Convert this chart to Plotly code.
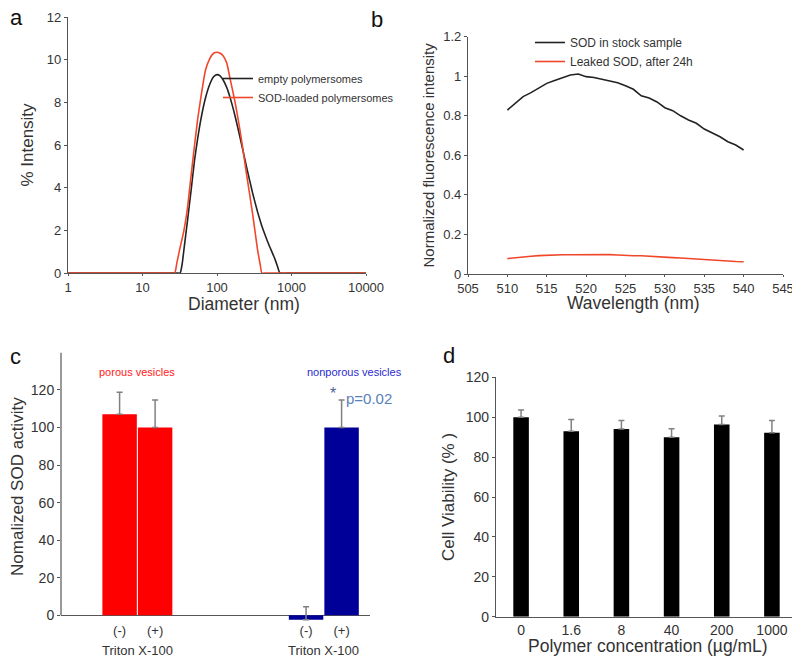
import plotly.graph_objects as go

# ---- panel a: DLS size distribution
diameter = [1, 20, 27, 29, 32, 34, 36, 40, 45, 50, 55, 60, 70, 80, 90, 100, 110, 120,
            135, 150, 175, 200, 225, 250, 300, 350, 380, 400, 450, 500, 600, 650, 700, 1000, 10000]
empty_int = [0, 0, 0, 0, 0, 0.4, 1.1, 2.4, 3.9, 5.3, 6.3, 7.1, 8.2, 8.85, 9.2, 9.3, 9.24, 9.07,
             8.7, 8.22, 7.35, 6.48, 5.68, 4.95, 3.76, 2.87, 2.45, 2.2, 1.71, 1.3, 0.65, 0.3, 0, 0, 0]
sod_int = [0, 0, 0, 0.5, 1.2, 1.6, 2.0, 3.0, 4.6, 6.0, 7.2, 8.1, 9.5, 10.05, 10.3, 10.35, 10.3, 10.2,
           9.85, 9.1, 8.0, 6.85, 5.7, 4.6, 2.8, 1.1, 0.4, 0, 0, 0, 0, 0, 0, 0, 0]

# ---- panel b: fluorescence spectra
wavelength = list(range(510, 541))
stock = [0.829, 0.863, 0.897, 0.917, 0.942, 0.964, 0.979, 0.994, 1.006, 1.011, 0.998,
         0.994, 0.984, 0.974, 0.967, 0.952, 0.934, 0.901, 0.890, 0.870, 0.841, 0.826,
         0.800, 0.779, 0.762, 0.733, 0.714, 0.694, 0.669, 0.652, 0.627]
leaked = [0.078, 0.083, 0.087, 0.090, 0.093, 0.095, 0.096, 0.097, 0.097, 0.097, 0.098,
          0.099, 0.100, 0.098, 0.096, 0.093, 0.092, 0.092, 0.089, 0.087, 0.085, 0.083,
          0.081, 0.078, 0.076, 0.072, 0.070, 0.068, 0.065, 0.063, 0.062]

# ---- panel c: SOD activity
triton = ["(-)", "(+)"]
porous = [107, 100]
porous_err = [11.8, 14.6]
nonporous = [-2.4, 100]
nonporous_err = [7, 14.6]

# ---- panel d: cell viability
conc = ["0", "1.6", "8", "40", "200", "1000"]
viability = [100, 92.9, 94.1, 89.9, 96.4, 92.2]
viability_err = [3.6, 6.0, 4.3, 4.3, 4.2, 6.2]

FONT = "Liberation Sans, Arial, sans-serif"
AX = "#555555"
TXT = "#333333"

# page has an 8px body margin, so the figure is a bit smaller than the window
W, H = 792, 651


def fx(px):
    return (px - 8) / W


def fy(py):
    return 1 - (py - 8) / H


fig = go.Figure()

fig.add_trace(go.Scatter(x=diameter, y=empty_int, mode="lines", line=dict(color="#222222", width=1.6, shape="spline", smoothing=0.5),
                         name="empty polymersomes", xaxis="x", yaxis="y", legend="legend", cliponaxis=False))
fig.add_trace(go.Scatter(x=diameter, y=sod_int, mode="lines", line=dict(color="#f0472b", width=1.6, shape="spline", smoothing=0.5),
                         name="SOD-loaded polymersomes", xaxis="x", yaxis="y", legend="legend", cliponaxis=False))

fig.add_trace(go.Scatter(x=wavelength, y=stock, mode="lines", line=dict(color="#222222", width=1.6),
                         name="SOD in stock sample", xaxis="x2", yaxis="y2", legend="legend2"))
fig.add_trace(go.Scatter(x=wavelength, y=leaked, mode="lines", line=dict(color="#f0472b", width=1.6),
                         name="Leaked SOD, after 24h", xaxis="x2", yaxis="y2", legend="legend2"))

# bar positions for panel c, two groups of two
group_c = [2.15, 7.4]
pos_porous = [group_c[0] - 0.5, group_c[0] + 0.5]
pos_nonporous = [group_c[1] - 0.5, group_c[1] + 0.5]
err_style = dict(type="data", symmetric=False, color="#808080", thickness=1.5, width=3)
fig.add_trace(go.Bar(x=pos_porous, y=porous, width=0.97, marker=dict(color="#ff0000", line_width=0),
                     error_y=dict(array=porous_err, arrayminus=[0, 0], **err_style),
                     xaxis="x3", yaxis="y3", showlegend=False))
fig.add_trace(go.Bar(x=pos_nonporous, y=nonporous, width=0.97, marker=dict(color="#000099", line_width=0),
                     error_y=dict(array=nonporous_err, arrayminus=[0, 0], **err_style),
                     xaxis="x3", yaxis="y3", showlegend=False))

fig.add_trace(go.Bar(x=conc, y=viability, marker=dict(color="black", line_width=0),
                     error_y=dict(array=viability_err, arrayminus=[0] * len(conc), **err_style),
                     xaxis="x4", yaxis="y4", showlegend=False))

axis_common = dict(showline=True, linecolor=AX, linewidth=1.2, showgrid=False, zeroline=False, automargin=False,
                   tickfont=dict(family=FONT, size=13, color=TXT), ticks="outside", ticklen=3, tickcolor=AX)

fig.update_layout(
    width=W, height=H, margin=dict(l=0, r=0, t=0, b=0, autoexpand=False),
    paper_bgcolor="white", plot_bgcolor="white", font=dict(family=FONT, color=TXT),
    barmode="overlay", bargap=0.69,
    xaxis=dict(axis_common, type="log", range=[0, 4], domain=[fx(68), fx(366)], ticklen=2,
               tickvals=[1, 10, 100, 1000, 10000], ticktext=["1", "10", "100", "1000", "10000"], anchor="y"),
    yaxis=dict(axis_common, range=[0, 12], dtick=2, domain=[fy(273), fy(17)],
               title=dict(text="% Intensity", font=dict(size=17), standoff=8), anchor="x"),
    xaxis2=dict(axis_common, range=[505, 545], dtick=5, domain=[fx(468), fx(783)], ticklen=2, anchor="y2"),
    yaxis2=dict(axis_common, range=[0, 1.2], tickvals=[0, 0.2, 0.4, 0.6, 0.8, 1, 1.2],
                ticktext=["0", "0.2", "0.4", "0.6", "0.8", "1", "1.2"], domain=[fy(274), fy(36.7)],
                title=dict(text="Normalized fluorescence intensity", font=dict(size=15), standoff=4), anchor="x2"),
    xaxis3=dict(range=[0, 8.7], domain=[fx(61), fx(370)], showline=False, showgrid=False, zeroline=False,
                automargin=False, tickvals=pos_porous + pos_nonporous, ticktext=triton + triton, ticks="",
                tickfont=dict(family=FONT, size=13, color=TXT), anchor="y3"),
    yaxis3=dict(range=[-3, 140], tickvals=[0, 20, 40, 60, 80, 100, 120], domain=[fy(620.9), fy(352.4)],
                showline=False, showgrid=False, zeroline=True, zerolinecolor=AX, zerolinewidth=1.2, automargin=False,
                ticks="outside", ticklen=3, tickcolor=AX, tickfont=dict(family=FONT, size=14, color=TXT),
                title=dict(text="Nomalized SOD activity", font=dict(size=17), standoff=6), anchor="x3"),
    xaxis4=dict(axis_common, domain=[fx(496), fx(797)], ticks="", tickfont=dict(family=FONT, size=14, color=TXT),
                anchor="y4"),
    yaxis4=dict(axis_common, range=[0, 120], dtick=20, domain=[fy(616.7), fy(377.3)],
                tickfont=dict(family=FONT, size=14, color=TXT),
                title=dict(text="Cell Viability (% )", font=dict(size=17), standoff=6), anchor="x4"),
    legend=dict(x=fx(218), y=fy(64), xanchor="left", yanchor="top", bgcolor="rgba(0,0,0,0)",
                font=dict(family=FONT, size=11, color=TXT), itemwidth=30, tracegroupgap=0),
    legend2=dict(x=fx(530), y=fy(28), xanchor="left", yanchor="top", bgcolor="rgba(0,0,0,0)",
                 font=dict(family=FONT, size=12, color=TXT), itemwidth=30, tracegroupgap=0),
)

# y-axis line of panel c only runs from 0 to 140
fig.add_shape(type="line", xref="x3 domain", yref="y3", x0=0, x1=0, y0=0, y1=140,
              line=dict(color=AX, width=1.2))

ann = []
for t, x, y in [("a", 8, 18), ("b", 369, 19), ("c", 8, 356), ("d", 441, 355)]:
    ann.append(dict(text=t, x=fx(x), y=fy(y), xref="paper", yref="paper", xanchor="left", yanchor="middle",
                    showarrow=False, font=dict(family=FONT, size=22, color="#111111")))
# x-axis titles sit close to the tick labels
for t, x, y in [("Diameter (nm)", 244, 304), ("Wavelength (nm)", 633, 303), ("Polymer concentration (µg/mL)", 648, 646)]:
    ann.append(dict(text=t, x=fx(x), y=fy(y), xref="paper", yref="paper", xanchor="center", yanchor="middle",
                    showarrow=False, font=dict(family=FONT, size=17.5, color=TXT)))
for gx in group_c:
    ann.append(dict(text="Triton X-100", x=gx, y=fy(650), xref="x3", yref="paper", xanchor="center",
                    yanchor="middle", showarrow=False, font=dict(family=FONT, size=13, color=TXT)))
ann.append(dict(text="porous vesicles", x=group_c[0], y=fy(372), xref="x3", yref="paper", xanchor="center",
                yanchor="middle", showarrow=False, font=dict(family=FONT, size=11, color="#ff2020")))
ann.append(dict(text="nonporous vesicles", x=8.26, y=fy(372), xref="x3", yref="paper", xanchor="center",
                yanchor="middle", showarrow=False, font=dict(family=FONT, size=11, color="#2a2ad0")))
ann.append(dict(text="*", x=7.66, y=fy(393), xref="x3", yref="paper", xanchor="center", yanchor="middle",
                showarrow=False, font=dict(family=FONT, size=16, color="#4a6490")))
ann.append(dict(text="p=0.02", x=7.97, y=fy(398), xref="x3", yref="paper", xanchor="left", yanchor="middle",
                showarrow=False, font=dict(family=FONT, size=15, color="#5a80b8")))
fig.update_layout(annotations=ann)

fig.write_html("out.html")
